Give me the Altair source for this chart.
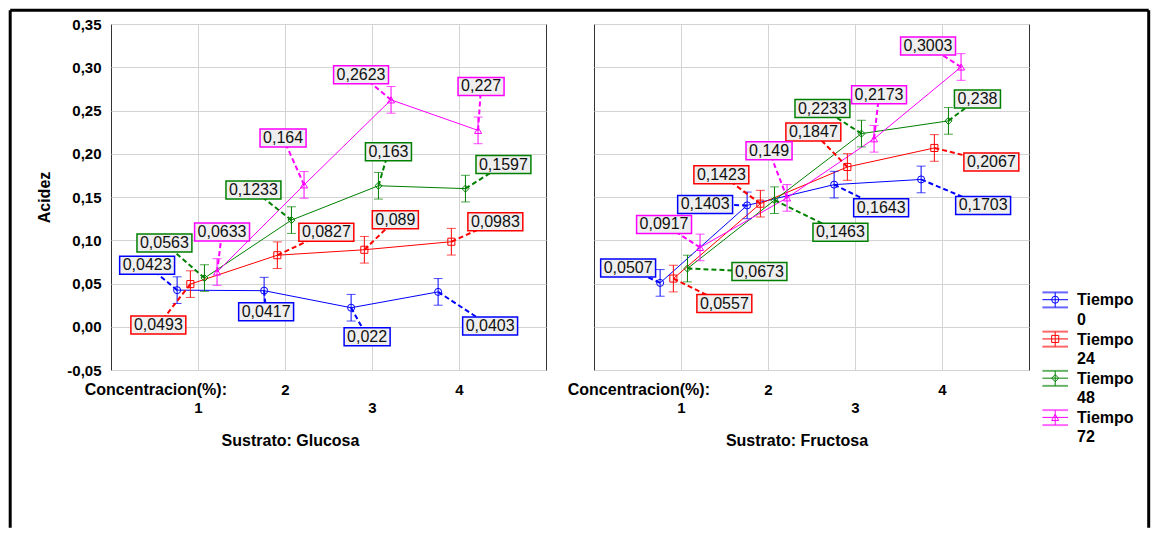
import altair as alt
import pandas as pd

FONT = "Liberation Sans"

# ---------------- data ----------------
conc = [1, 2, 3, 4]
tiempos = ["0", "24", "48", "72"]
legend_labels = ["Tiempo\n0", "Tiempo\n24", "Tiempo\n48", "Tiempo\n72"]
colors = ["#0000ff", "#ff0000", "#008000", "#ff00ff"]
shapes = ["circle", "square", "diamond", "triangle-up"]

glucosa_t0 = [0.0423, 0.0417, 0.022, 0.0403]
glucosa_t24 = [0.0493, 0.0827, 0.089, 0.0983]
glucosa_t48 = [0.0563, 0.1233, 0.163, 0.1597]
glucosa_t72 = [0.0633, 0.164, 0.2623, 0.227]

fructosa_t0 = [0.0507, 0.1403, 0.1643, 0.1703]
fructosa_t24 = [0.0557, 0.1423, 0.1847, 0.2067]
fructosa_t48 = [0.0673, 0.1463, 0.2233, 0.238]
fructosa_t72 = [0.0917, 0.149, 0.2173, 0.3003]

# half-length of the vertical bars (same for every mean)
err_glucosa = [0.0154, 0.0154, 0.0154, 0.0154]
err_fructosa = [0.0154, 0.0154, 0.0154, 0.0154]

# ---------------- layout / style ----------------
W, H = 435, 346
XD = [0, 5]
YD = [-0.05, 0.35]
PXX = W / (XD[1] - XD[0])
PXY = H / (YD[1] - YD[0])
dodge = [-0.24, -0.088, 0.074, 0.219]

# label box offsets from each point, in pixels (dx right, dy down)
lab_glucosa = [
    [(-30, -25), (2, 21), (16, 29), (52, 34)],
    [(-32, 41), (49, -23), (31, -30), (44, -20)],
    [(-40, -35), (-38, -30), (10, -34), (38, -24)],
    [(5, -40), (-21, -47), (-30, -25), (3, -44)],
]
lab_fructosa = [
    [(-32, -15), (-42, -1), (47, 23), (62, 26)],
    [(51, 25), (-39, -29), (-34, -35), (57, 14)],
    [(72, 3), (66, 32), (-39, -25), (29, -22)],
    [(-36, -23), (-18, -47), (5, -44), (-33, -21)],
]


def build_df(series, errs, labs):
    rows = []
    for si, t in enumerate(tiempos):
        for ci, c in enumerate(conc):
            v = series[si][ci]
            e = errs[ci]
            xp = c + dodge[si]
            dx, dy = labs[si][ci]
            lx = xp + dx / PXX
            ly = v - dy / PXY
            txt = repr(v).replace(".", ",")
            ndig = len(txt) - 1
            bw = (ndig * 0.556 + 0.278) * 16 + 6
            bh = 18
            rows.append(dict(serie=t, conc=c, val=v, xp=xp, lo=v - e, hi=v + e,
                             lx=lx, ly=ly, lab=txt,
                             bx1=lx - bw / 2 / PXX, bx2=lx + bw / 2 / PXX,
                             by1=ly - bh / 2 / PXY, by2=ly + bh / 2 / PXY))
    return pd.DataFrame(rows)


df_g = build_df([glucosa_t0, glucosa_t24, glucosa_t48, glucosa_t72], err_glucosa, lab_glucosa)
df_f = build_df([fructosa_t0, fructosa_t24, fructosa_t48, fructosa_t72], err_fructosa, lab_fructosa)

color_scale = alt.Scale(domain=tiempos, range=colors)
shape_scale = alt.Scale(domain=tiempos, range=shapes)
GRID = "#d3d3d3"
yvals = [-0.05, 0.0, 0.05, 0.10, 0.15, 0.20, 0.25, 0.30, 0.35]


def make_panel(df, title, title_x, show_y, frame=False):
    xs = alt.Scale(domain=XD, nice=False, zero=False)
    ys = alt.Scale(domain=YD, nice=False, zero=False)
    xaxis = alt.Axis(
        values=conc, grid=True, gridColor=GRID, ticks=False, tickSize=0, domain=False,
        labelExpr="datum.value == 1 || datum.value == 3 ? ['', datum.label] : datum.label",
        labelFont=FONT, labelFontSize=15, labelFontWeight="bold", labelColor="black",
        labelBaseline="top", labelPadding=12.4, labelLineHeight=18.4, labelAngle=0,
        labelOverlap=False, labelFlush=False,
        title=title, titleFont=FONT, titleFontSize=16, titleFontWeight="bold",
        titleColor="black", titleX=title_x, titleY=75.7, titleBaseline="alphabetic",
        titleAlign="center")
    if show_y:
        yaxis = alt.Axis(
            values=yvals, grid=True, gridColor=GRID, ticks=False, tickSize=0, domain=False,
            labelExpr="(datum.value < -0.001 ? '-' : '') + replace(format(abs(datum.value), '.2f'), '.', ',')",
            labelFont=FONT, labelFontSize=15, labelFontWeight="bold", labelColor="black",
            labelPadding=10, labelOverlap=False,
            title="Acidez", titleFont=FONT, titleFontSize=16, titleFontWeight="bold",
            titleColor="black", titleX=-62, titleY=H / 2, titleBaseline="alphabetic",
            titleAngle=270, titleAlign="center")
    else:
        yaxis = alt.Axis(values=yvals, grid=True, gridColor=GRID, ticks=False, tickSize=0,
                         domain=False, labels=False, title="")

    def X(f):
        return alt.X(f, type="quantitative", scale=xs, axis=xaxis)

    def Y(f):
        return alt.Y(f, type="quantitative", scale=ys, axis=yaxis)

    color = alt.Color("serie:N", scale=color_scale, legend=None)
    base = alt.Chart(df)

    lines = base.mark_line(strokeWidth=1).encode(
        x=X("xp"), y=Y("val"), color=color, order="conc:Q")
    bars = base.mark_rule(strokeWidth=1).encode(
        x=X("xp"), y=Y("lo"), y2=alt.Y2("hi"), color=color)
    cap_lo = base.mark_tick(orient="horizontal", size=9, thickness=1).encode(
        x=X("xp"), y=Y("lo"), color=color)
    cap_hi = base.mark_tick(orient="horizontal", size=9, thickness=1).encode(
        x=X("xp"), y=Y("hi"), color=color)
    pts = base.mark_point(filled=False, size=50, strokeWidth=1, opacity=1).encode(
        x=X("xp"), y=Y("val"), color=color,
        shape=alt.Shape("serie:N", scale=shape_scale, legend=None))
    conn = base.mark_rule(strokeWidth=2, strokeDash=[5, 3]).encode(
        x=X("xp"), y=Y("val"), x2=alt.X2("lx"), y2=alt.Y2("ly"), color=color)
    boxes = base.mark_rect(fill="#efefef", strokeWidth=1.5).encode(
        x=X("bx1"), x2=alt.X2("bx2"), y=Y("by1"), y2=alt.Y2("by2"),
        stroke=alt.Stroke("serie:N", scale=color_scale, legend=None))
    texts = base.mark_text(font=FONT, fontSize=16, color="#111111",
                           align="center", baseline="middle").encode(
        x=X("lx"), y=Y("ly"), text="lab:N")

    conc_df = pd.DataFrame({"x": [1], "t": ["Concentracion(%):"]})
    conc_lab = alt.Chart(conc_df).mark_text(
        font=FONT, fontSize=16, fontWeight="bold", color="black",
        align="right", baseline="alphabetic", dx=29).encode(
        x=X("x"), y=alt.value(370.7), text="t:N")

    layers = [lines, bars, cap_lo, cap_hi, pts, conn, boxes, texts, conc_lab]

    if frame:
        fdf = pd.DataFrame({"k": [0]})
        FL, FR, FT, FB = -100.8, 1037.7, -13.8, 503.7
        fb = alt.Chart(fdf)
        top = fb.mark_rule(color="black", strokeWidth=3).encode(
            x=alt.value(FL), x2=alt.value(FR), y=alt.value(FT))
        left = fb.mark_rule(color="black", strokeWidth=3).encode(
            x=alt.value(FL), y=alt.value(FT), y2=alt.value(FB))
        right = fb.mark_rule(color="black", strokeWidth=3).encode(
            x=alt.value(FR), y=alt.value(FT), y2=alt.value(FB))
        layers += [top, left, right]

    return alt.layer(*layers).properties(
        width=W, height=H,
        view=alt.ViewBackground(stroke="#333333", strokeWidth=1))


left_panel = make_panel(df_g, "Sustrato: Glucosa", 179, True, frame=True)
right_panel = make_panel(df_f, "Sustrato: Fructosa", 202.5, False)

# ---------------- legend ----------------
step = (393.4 - 275.7) / 3
leg_df = pd.DataFrame({
    "serie": tiempos,
    "i": [0, 1, 2, 3],
    "txt": legend_labels,
})
leg_df["yt"] = leg_df["i"] - 7.3 / step
leg_df["yb"] = leg_df["i"] + 7.7 / step
ly_scale = alt.Scale(domain=[0, 3], range=[275.7, 393.4], zero=False, nice=False)


def LY(f):
    return alt.Y(f, type="quantitative", scale=ly_scale, axis=None)


lcolor = alt.Color("serie:N", scale=color_scale, legend=None)
lb = alt.Chart(leg_df)
SX0, SX1 = -34.6, -9.0
SXC = (SX0 + SX1) / 2
leg_mid = lb.mark_rule(strokeWidth=1).encode(
    x=alt.value(SX0), x2=alt.value(SX1), y=LY("i"), color=lcolor)
leg_top = lb.mark_rule(strokeWidth=2, opacity=0.6).encode(
    x=alt.value(SX0), x2=alt.value(SX1), y=LY("yt"), color=lcolor)
leg_bot = lb.mark_rule(strokeWidth=2, opacity=0.6).encode(
    x=alt.value(SX0), x2=alt.value(SX1), y=LY("yb"), color=lcolor)
leg_vert = lb.mark_rule(strokeWidth=1).encode(
    x=alt.value(SXC), y=LY("yt"), y2=alt.Y2("yb"), color=lcolor)
leg_pt = lb.mark_point(filled=False, size=50, strokeWidth=1, opacity=1).encode(
    x=alt.value(SXC), y=LY("i"), color=lcolor,
    shape=alt.Shape("serie:N", scale=shape_scale, legend=None))
leg_txt = lb.mark_text(font=FONT, fontSize=16, fontWeight="bold", color="black",
                       align="left", baseline="top", dy=-7.3, lineBreak="\n",
                       lineHeight=19.3).encode(
    x=alt.value(0), y=LY("i"), text="txt:N")

legend_panel = alt.layer(leg_mid, leg_top, leg_bot, leg_vert, leg_pt, leg_txt).properties(
    width=60, height=H)

chart = alt.hconcat(left_panel, right_panel, legend_panel, spacing=48, bounds="flush").properties(
    padding=0, background="white"
).configure_view(stroke="transparent")

chart.save("out.html", embed_options={"renderer": "svg", "actions": False})
